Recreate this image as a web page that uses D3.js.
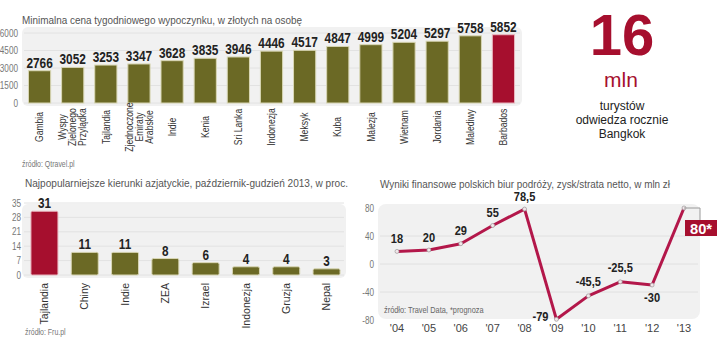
<!DOCTYPE html>
<html><head><meta charset="utf-8">
<script src="https://cdn.jsdelivr.net/npm/d3@7/dist/d3.min.js"></script>
<style>body{margin:0;background:#fff}svg{display:block}</style>
</head><body><svg id="c" width="720" height="337"></svg>
<script>
// ---- data ----
const priceCountries = ["Gambia","Wyspy Zielonego Przylądka","Tajlandia","Zjednoczone Emiraty Arabskie","Indie","Kenia","Sri Lanka","Indonezja","Meksyk","Kuba","Malezja","Wietnam","Jordania","Malediwy","Barbados"];
const priceLabelLines = [["Gambia"],["Wyspy","Zielonego","Przylądka"],["Tajlandia"],["Zjednoczone","Emiraty","Arabskie"],["Indie"],["Kenia"],["Sri Lanka"],["Indonezja"],["Meksyk"],["Kuba"],["Malezja"],["Wietnam"],["Jordania"],["Malediwy"],["Barbados"]];
const priceValues = [2766,3052,3253,3347,3628,3835,3946,4446,4517,4847,4999,5204,5297,5758,5852];
const priceTicks = [0,1500,3000,4500,6000];

const asiaCountries = ["Tajlandia","Chiny","Indie","ZEA","Izrael","Indonezja","Gruzja","Nepal"];
const asiaValues = [31,11,11,8,6,4,4,3];
const asiaTicks = [0,7,14,21,28,35];

const years = ["'04","'05","'06","'07","'08","'09","'10","'11","'12","'13"];
const results = [18,20,29,55,78.5,-79,-45.5,-25.5,-30,80];
const resultLabels = ["18","20","29","55","78,5","-79","-45,5","-25,5","-30","80*"];
const resultTicks = [-80,-40,0,40,80];

const OLIVE="#6b6925", RED="#a60f2e", LINE="#b3174a";
const SANS="'Liberation Sans',Arial,sans-serif";

const svg = d3.select("#c");

// text helper: horizontally condensed text
function txt(g, x, y, s, o={}){
  const sx = o.sx==null?0.82:o.sx;
  const rot = o.rot?` rotate(${o.rot})`:"";
  const t = g.append("text").attr("transform",`translate(${x},${y})${rot} scale(${sx},1)`)
    .attr("font-family",SANS).attr("font-size",o.size||10).attr("fill",o.fill||"#333")
    .attr("text-anchor",o.anchor||"start").text(s);
  if(o.bold) t.attr("font-weight","bold");
  if(o.dy) t.attr("dy",o.dy);
  return t;
}
function title(g,x,y,s,w){
  g.append("text").attr("x",x).attr("y",y).attr("font-family",SANS).attr("font-size",11).attr("fill","#555")
   .attr("textLength",w).attr("lengthAdjust","spacingAndGlyphs").text(s);
}

// ---------- chart 1 ----------
const g1 = svg.append("g");
title(g1,22,24,"Minimalna cena tygodniowego wypoczynku, w złotych na osobę",280);
const x1 = d3.scaleBand().domain(priceCountries).range([23,520]).paddingInner(0.33).paddingOuter(0.165);
const y1 = d3.scaleLinear().domain([0,6000]).range([103,33]);
g1.append("rect").attr("x",22).attr("y",27).attr("width",500).attr("height",79).attr("rx",6).attr("fill","#f1f1f1");
g1.selectAll(".gl").data(priceTicks).join("line").attr("x1",24).attr("x2",520)
  .attr("y1",d=>y1(d)).attr("y2",d=>y1(d)).attr("stroke","#e2e2e2");
priceTicks.forEach(d=>txt(g1,18,y1(d)+3.5,d,{size:10,fill:"#777",anchor:"end"}));
g1.selectAll(".bar").data(priceValues).join("rect")
  .attr("x",(d,i)=>x1(priceCountries[i])).attr("width",x1.bandwidth())
  .attr("y",d=>y1(d)).attr("height",d=>y1(0)-y1(d))
  .attr("fill",(d,i)=>i===priceValues.length-1?RED:OLIVE)
  .attr("stroke",(d,i)=>i===priceValues.length-1?"#e9b7bf":"#d9d7b5").attr("stroke-width",1);
priceValues.forEach((d,i)=>txt(g1,x1(priceCountries[i])+x1.bandwidth()/2,y1(d)-3,d,{size:15,sx:0.79,bold:true,fill:"#222",anchor:"middle"}));
priceLabelLines.forEach((lines,i)=>{
  const cx = x1(priceCountries[i])+x1.bandwidth()/2;
  lines.forEach((ln,j)=>{
    const lx = cx + (j-(lines.length-1)/2)*10;
    txt(g1,lx,127,ln,{rot:-90,size:10.5,anchor:"middle",dy:"0.35em",fill:"#333"});
  });
});
txt(g1,22,167,"źródło: Qtravel.pl",{size:8.5,fill:"#777"});

// ---------- right text ----------
const gt = svg.append("g");
txt(gt,622,55,"16",{size:58,sx:1,bold:true,fill:RED,anchor:"middle"});
txt(gt,621,87,"mln",{size:21,sx:1,fill:RED,anchor:"middle"});
[["turystów",110],["odwiedza rocznie",124],["Bangkok",138]].forEach(([t,y])=>txt(gt,622,y,t,{size:12,sx:1,fill:"#222",anchor:"middle"}));

// ---------- chart 2 ----------
const g2 = svg.append("g");
title(g2,25,187,"Najpopularniejsze kierunki azjatyckie, październik-gudzień 2013, w proc.",323);
const x2 = d3.scaleBand().domain(asiaCountries).range([24.3,346.7]).paddingInner(0.33).paddingOuter(0.165);
const y2 = d3.scaleLinear().domain([0,35]).range([275,203]);
g2.append("rect").attr("x",22).attr("y",204).attr("width",324).attr("height",74).attr("rx",6).attr("fill","#f1f1f1");
g2.selectAll(".gl").data(asiaTicks).join("line").attr("x1",24).attr("x2",344)
  .attr("y1",d=>y2(d)).attr("y2",d=>y2(d)).attr("stroke","#e2e2e2");
asiaTicks.forEach(d=>txt(g2,21,y2(d)+3.5,d,{size:10,fill:"#777",anchor:"end"}));
g2.selectAll(".bar").data(asiaValues).join("rect")
  .attr("x",(d,i)=>x2(asiaCountries[i])).attr("width",x2.bandwidth())
  .attr("y",d=>y2(d)).attr("height",d=>y2(0)-y2(d)).attr("rx",1.5)
  .attr("fill",(d,i)=>i===0?RED:OLIVE).attr("stroke",(d,i)=>i===0?"#e9b7bf":"#d9d7b5").attr("stroke-width",1);
asiaValues.forEach((d,i)=>txt(g2,x2(asiaCountries[i])+x2.bandwidth()/2,y2(d)-3,d,{size:14,sx:0.84,bold:true,fill:"#222",anchor:"middle"}));
asiaCountries.forEach(d=>txt(g2,x2(d)+x2.bandwidth()/2,283,d,{rot:-90,size:10.5,sx:1,anchor:"end",dy:"0.35em",fill:"#333"}));
txt(g2,25,335,"źródło: Fru.pl",{size:8.5,fill:"#777"});

// ---------- chart 3 ----------
const g3 = svg.append("g");
title(g3,380,188,"Wyniki finansowe polskich biur podróży, zysk/strata netto, w mln zł",290);
const x3 = d3.scalePoint().domain(years).range([397,684]);
const y3 = d3.scaleLinear().domain([-80,80]).range([320,208]);
g3.append("rect").attr("x",378).attr("y",204).attr("width",322).attr("height",115).attr("rx",8).attr("fill","#f1f1f1");
g3.selectAll(".gl").data(resultTicks.filter(d=>d>-80&&d<80)).join("line").attr("x1",380).attr("x2",698)
  .attr("y1",d=>y3(d)).attr("y2",d=>y3(d)).attr("stroke","#e0e0e0");
resultTicks.forEach(d=>txt(g3,374,y3(d)+3.5,d,{size:10,fill:"#777",anchor:"end"}));
years.forEach(d=>txt(g3,x3(d),332,d,{size:11,sx:1,fill:"#444",anchor:"middle"}));
txt(g3,384,313,"źródło: Travel Data, *prognoza",{size:9,fill:"#666"});
const line = d3.line().x((d,i)=>x3(years[i])).y(d=>y3(d));
g3.append("path").datum(results).attr("d",line).attr("fill","none").attr("stroke",LINE).attr("stroke-width",3).attr("stroke-linejoin","round");
g3.selectAll(".pt").data(results).join("circle").attr("cx",(d,i)=>x3(years[i])).attr("cy",d=>y3(d)).attr("r",2)
  .attr("fill","#f3e6ea").attr("stroke","#999").attr("stroke-width",0.7);
const lab = (i)=>{
  const px=x3(years[i]), py=y3(results[i]);
  if(i===5) return {x:px-8,y:py+2,a:"end"};
  if(i===8) return {x:px,y:py+17,a:"middle"};
  if(i===6||i===7) return {x:px,y:py-10,a:"middle"};
  return {x:px,y:py-8.5,a:"middle"};
};
results.forEach((d,i)=>{
  if(i===results.length-1) return;
  const p=lab(i);
  txt(g3,p.x,p.y,resultLabels[i],{size:13.5,sx:0.82,bold:true,fill:"#222",anchor:p.a});
});
{
  const i=results.length-1, px=x3(years[i]), py=y3(results[i]);
  g3.append("path").attr("d",`M${px},${py}H${px+16}V${py+12}`).attr("fill","none").attr("stroke","#999").attr("stroke-width",1);
  g3.append("rect").attr("x",px+1).attr("y",py+12).attr("width",32).attr("height",16).attr("fill",RED);
  txt(g3,px+17,py+25.5,resultLabels[i],{size:15.5,sx:0.95,bold:true,fill:"#fff",anchor:"middle"});
}
</script></body></html>
